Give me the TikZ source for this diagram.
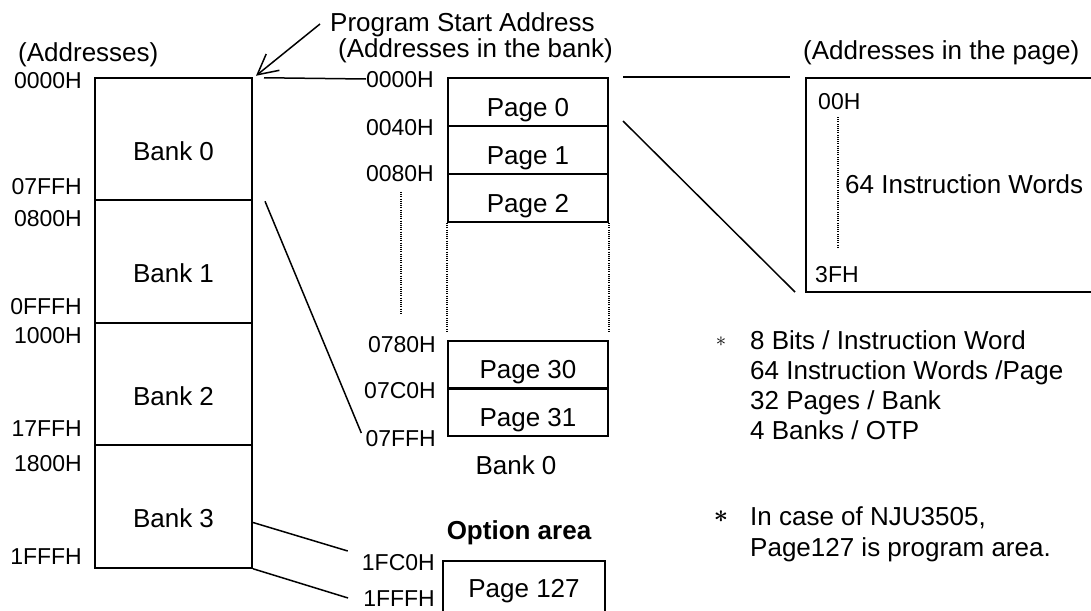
\documentclass[tikz,border=0pt]{standalone}
\usepackage{fontspec}
\usepackage{amsmath}
\setmainfont{Liberation Sans}
\usetikzlibrary{arrows.meta}

\begin{document}
\begin{tikzpicture}[x=1pt,y=-1pt,
      every node/.style={inner sep=0pt,text depth=0pt},
      addr/.style={font=\fontsize{23}{23}\selectfont,text height=16.5pt},
      txt/.style={font=\fontsize{26}{26}\selectfont,text height=18.6pt},
      box/.style={txt,draw,line width=2pt},
      bank/.style={box,minimum width=157pt,minimum height=122.5pt,text height=42.6pt},
      page/.style={box,minimum width=160pt,minimum height=48pt,text height=28.6pt},
      conn/.style={line width=1.5pt},
      dots/.style={line width=1.1pt,dash pattern=on 1pt off 1.2pt}]
  \useasboundingbox (0,0) rectangle (1091,610);

  \node[txt,anchor=west] (tadr) at (18,52) {(Addresses)};
  \node[txt,anchor=west] (tpsa) at (330,22) {Program Start Address};
  \node[txt,anchor=west] (tbnk) at (338,48) {(Addresses in the bank)};
  \node[txt,anchor=west] (tpag) at (803,50) {(Addresses in the page)};

  \node[bank] (b0) at (173.5,139) {Bank 0};
  \node[bank] (b1) at (173.5,261.5) {Bank 1};
  \node[bank] (b2) at (173.5,384) {Bank 2};
  \node[bank] (b3) at (173.5,506.5) {Bank 3};

  \node[addr,anchor=east] (l0000) at (82,80) {0000H};
  \node[addr,anchor=east] (l07ff) at (82,186) {07FFH};
  \node[addr,anchor=east] (l0800) at (82,218) {0800H};
  \node[addr,anchor=east] (l0fff) at (82,306) {0FFFH};
  \node[addr,anchor=east] (l1000) at (82,335) {1000H};
  \node[addr,anchor=east] (l17ff) at (82,428) {17FFH};
  \node[addr,anchor=east] (l1800) at (82,463) {1800H};
  \node[addr,anchor=east] (l1fff) at (82,556) {1FFFH};

  \node[page] (p0) at (528,102) {Page 0};
  \node[page] (p1) at (528,150) {Page 1};
  \node[page] (p2) at (528,198) {Page 2};
  \node[page] (p30) at (528,364.5) {Page 30};
  \node[page] (p31) at (528,412) {Page 31};
  \node[txt] (tb0) at (516,465) {Bank 0};

  \node[addr,anchor=east] (r0000) at (434,79) {0000H};
  \node[addr,anchor=east] (r0040) at (434,127) {0040H};
  \node[addr,anchor=east] (r0080) at (434,173) {0080H};
  \node[addr,anchor=east] (r0780) at (436,344) {0780H};
  \node[addr,anchor=east] (r07c0) at (436,390) {07C0H};
  \node[addr,anchor=east] (r07ff) at (436,438) {07FFH};

  \node[txt,font=\fontsize{26}{26}\selectfont\bfseries] (topt) at (519,530) {Option area};
  \node[box,minimum width=162pt,minimum height=54pt] (p127) at (524,588) {Page 127};
  \node[addr,anchor=east] (r1fc0) at (435,562) {1FC0H};
  \node[addr,anchor=east] (r1fff) at (435,598) {1FFFH};

  \node[draw,line width=2pt,minimum width=304pt,minimum height=214pt] (pg) at (958,185) {};
  \node[addr,anchor=west] (w00) at (818,101) {00H};
  \node[addr,anchor=west] (w3f) at (815,274) {3FH};
  \node[txt,anchor=west] (w64) at (845,184) {64 Instruction Words};

  \node[font=\fontsize{22}{22}\selectfont] (s1) at (721,342) {$\ast$};
  \node[txt,anchor=west] (n1) at (750,340) {8 Bits / Instruction Word};
  \node[txt,anchor=west] (n2) at (750,370) {64 Instruction Words /Page};
  \node[txt,anchor=west] (n3) at (750,400) {32 Pages / Bank};
  \node[txt,anchor=west] (n4) at (750,430) {4 Banks / OTP};
  \node[font=\fontsize{24}{24}\selectfont] (s2) at (721,517) {$\boldsymbol{\ast}$};
  \node[txt,anchor=west] (n5) at (750,516) {In case of NJU3505,};
  \node[txt,anchor=west] (n6) at (750,547) {Page127 is program area.};

  \coordinate (as) at (320,24);
  \coordinate (v1) at (401,192);
  \coordinate (v2) at (401,315);
  \coordinate (u1) at (838,117);
  \coordinate (u2) at (838,248);

  \draw[conn,-{Straight Barb[length=20pt,width=21pt]}] (as) -- ([xshift=3pt,yshift=1pt]b0.north east);
  \draw[conn] ([xshift=11pt,yshift=-1pt]b0.north east) -- (r0000.west);
  \draw[conn] ([xshift=12pt]b0.south east) -- ([xshift=-4pt,yshift=5pt]r07ff.west);
  \draw[conn] ([yshift=-16pt]b3.east) -- ([xshift=-14pt,yshift=11pt]r1fc0.west);
  \draw[conn] (b3.south east) -- ([xshift=-15pt]r1fff.west);
  \draw[conn] ([xshift=14pt]p0.north east) -- ([xshift=-15pt]pg.north west);
  \draw[conn] ([xshift=14pt,yshift=6pt]p0.south east) -- ([xshift=-10pt,yshift=1pt]pg.south west);

  \draw[dots] (v1) -- (v2);
  \draw[dots] (p2.south west) -- ([yshift=8pt]p30.north west);
  \draw[dots] (p2.south east) -- ([yshift=8pt]p30.north east);
  \draw[dots] (u1) -- (u2);
\end{tikzpicture}
\end{document}
